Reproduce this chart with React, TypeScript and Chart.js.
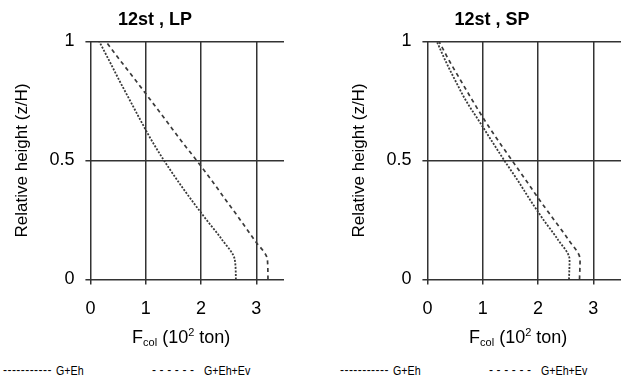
import React, { useEffect, useRef } from "react";
import { Chart, registerables } from "chart.js";

Chart.register(...registerables);

const FONT = "'Liberation Sans', Arial, sans-serif";

// Relative height z/H at each storey level (12 storeys)
const relativeHeights = [0, 0.083, 0.167, 0.25, 0.333, 0.417, 0.5, 0.583, 0.667, 0.75, 0.833, 0.917, 1];

// Column force F_col (10^2 ton), long-period (LP) record
const lpGEh = [2.63, 2.61, 2.38, 2.1, 1.83, 1.57, 1.33, 1.11, 0.91, 0.72, 0.53, 0.345, 0.16];
const lpGEhEv = [3.21, 3.2, 2.96, 2.71, 2.45, 2.19, 1.92, 1.64, 1.37, 1.1, 0.83, 0.55, 0.28];

// Column force F_col (10^2 ton), short-period (SP) record
const spGEh = [2.56, 2.57, 2.36, 2.1, 1.86, 1.63, 1.39, 1.16, 0.93, 0.7, 0.51, 0.33, 0.17];
const spGEhEv = [2.75, 2.76, 2.55, 2.29, 2.03, 1.78, 1.53, 1.28, 1.04, 0.82, 0.61, 0.4, 0.21];

const xTickValues = [0, 1, 2, 3];
const yTickValues = [0, 0.5, 1];
const xMax = 3.5;

const seriesNames = ["G+Eh", "G+Eh+Ev"];
const panelTitles = ["12st , LP", "12st , SP"];
const yAxisTitle = "Relative height (z/H)";

const richTextPlugin = {
  id: "richText",
  afterDraw(chart: any, _args: any, opts: any) {
    const { ctx, chartArea } = chart;
    ctx.save();
    ctx.fillStyle = "#000";
    ctx.textBaseline = "alphabetic";
    // panel title
    ctx.textAlign = "center";
    ctx.font = `bold 18px ${FONT}`;
    ctx.fillText(opts.title, 155, 25);
    // x-axis title with subscript / superscript
    ctx.textAlign = "left";
    const parts = [
      { t: "F", s: 18, dy: 0 },
      { t: "col", s: 11, dy: 3 },
      { t: " (10", s: 18, dy: 0 },
      { t: "2", s: 11, dy: -7 },
      { t: " ton)", s: 18, dy: 0 },
    ];
    let total = 0;
    const widths = parts.map((p) => {
      ctx.font = `${p.s}px ${FONT}`;
      const w = ctx.measureText(p.t).width;
      total += w;
      return w;
    });
    let x = (chartArea.left + chartArea.right) / 2 - 6 - total / 2;
    const base = chartArea.bottom + 64;
    parts.forEach((p, i) => {
      ctx.font = `${p.s}px ${FONT}`;
      ctx.fillText(p.t, x, base + p.dy);
      x += widths[i];
    });
    ctx.restore();
  },
};

function Panel({ title, a, b }: { title: string; a: number[]; b: number[] }) {
  const ref = useRef<HTMLCanvasElement | null>(null);
  useEffect(() => {
    if (!ref.current) return;
    const gridColor = "#333333";
    const chart = new Chart(ref.current, {
      type: "line",
      data: {
        datasets: [
          {
            label: seriesNames[0],
            data: relativeHeights.map((h, i) => ({ x: a[i], y: h })),
            borderColor: "#3a3a3a",
            borderWidth: 1.8,
            borderDash: [2, 1.5],
            pointRadius: 0,
            fill: false,
            cubicInterpolationMode: "monotone",
          },
          {
            label: seriesNames[1],
            data: relativeHeights.map((h, i) => ({ x: b[i], y: h })),
            borderColor: "#3a3a3a",
            borderWidth: 1.7,
            borderDash: [4, 3.5],
            pointRadius: 0,
            fill: false,
            cubicInterpolationMode: "monotone",
          },
        ],
      },
      options: {
        animation: false,
        responsive: false,
        maintainAspectRatio: false,
        indexAxis: "y",
        layout: { padding: { left: 6, right: 26, top: 41.5, bottom: 16 } },
        plugins: {
          legend: { display: false },
          tooltip: { enabled: false },
          title: { display: false },
          richText: { title },
        },
        scales: {
          x: {
            type: "linear",
            min: 0,
            max: xMax,
            afterBuildTicks: (axis: any) => {
              axis.ticks = xTickValues.map((v) => ({ value: v }));
            },
            grid: { color: gridColor, lineWidth: 1.5, drawTicks: true, tickLength: 5 },
            border: { display: false },
            ticks: { color: "#000", font: { size: 18, family: FONT }, padding: 14, maxRotation: 0 },
          },
          y: {
            type: "linear",
            min: 0,
            max: 1,
            afterBuildTicks: (axis: any) => {
              axis.ticks = yTickValues.map((v) => ({ value: v }));
            },
            grid: { color: gridColor, lineWidth: 1.5, drawTicks: true, tickLength: 5 },
            border: { display: false },
            ticks: {
              color: "#000",
              font: { size: 18, family: FONT },
              padding: 11,
              callback: (v: any) => String(v),
            },
            title: {
              display: true,
              text: yAxisTitle,
              color: "#000",
              font: { size: 17, family: FONT },
              padding: { top: 6, bottom: 6 },
            },
          },
        },
      },
      plugins: [richTextPlugin],
    } as any);
    return () => chart.destroy();
  }, [title, a, b]);
  return <canvas ref={ref} width={310} height={350} style={{ width: 310, height: 350, display: "block" }} />;
}

function LegendRow({ left }: { left: number }) {
  const base: React.CSSProperties = {
    position: "absolute",
    top: 363,
    fontFamily: FONT,
    fontSize: 13,
    lineHeight: "15px",
    color: "#000",
    whiteSpace: "pre",
  };
  const label: React.CSSProperties = {
    ...base,
    display: "inline-block",
    transform: "scaleX(0.82)",
    transformOrigin: "left center",
  };
  return (
    <>
      <span style={{ ...base, fontSize: 12, left: left + 3, letterSpacing: "0.45px" }}>-----------</span>
      <span style={{ ...label, left: left + 56 }}>{seriesNames[0]}</span>
      <span style={{ ...base, fontSize: 12, left: left + 152, letterSpacing: "3.6px" }}>------</span>
      <span style={{ ...label, left: left + 204 }}>{seriesNames[1]}</span>
    </>
  );
}

export default function App() {
  return (
    <div
      style={{
        position: "fixed",
        left: 0,
        top: 0,
        width: 624,
        height: 381,
        overflow: "hidden",
        background: "#fff",
      }}
    >
      <div style={{ position: "absolute", left: 0, top: 0 }}>
        <Panel title={panelTitles[0]} a={lpGEh} b={lpGEhEv} />
      </div>
      <div style={{ position: "absolute", left: 337, top: 0 }}>
        <Panel title={panelTitles[1]} a={spGEh} b={spGEhEv} />
      </div>
      <LegendRow left={0} />
      <LegendRow left={337} />
    </div>
  );
}
